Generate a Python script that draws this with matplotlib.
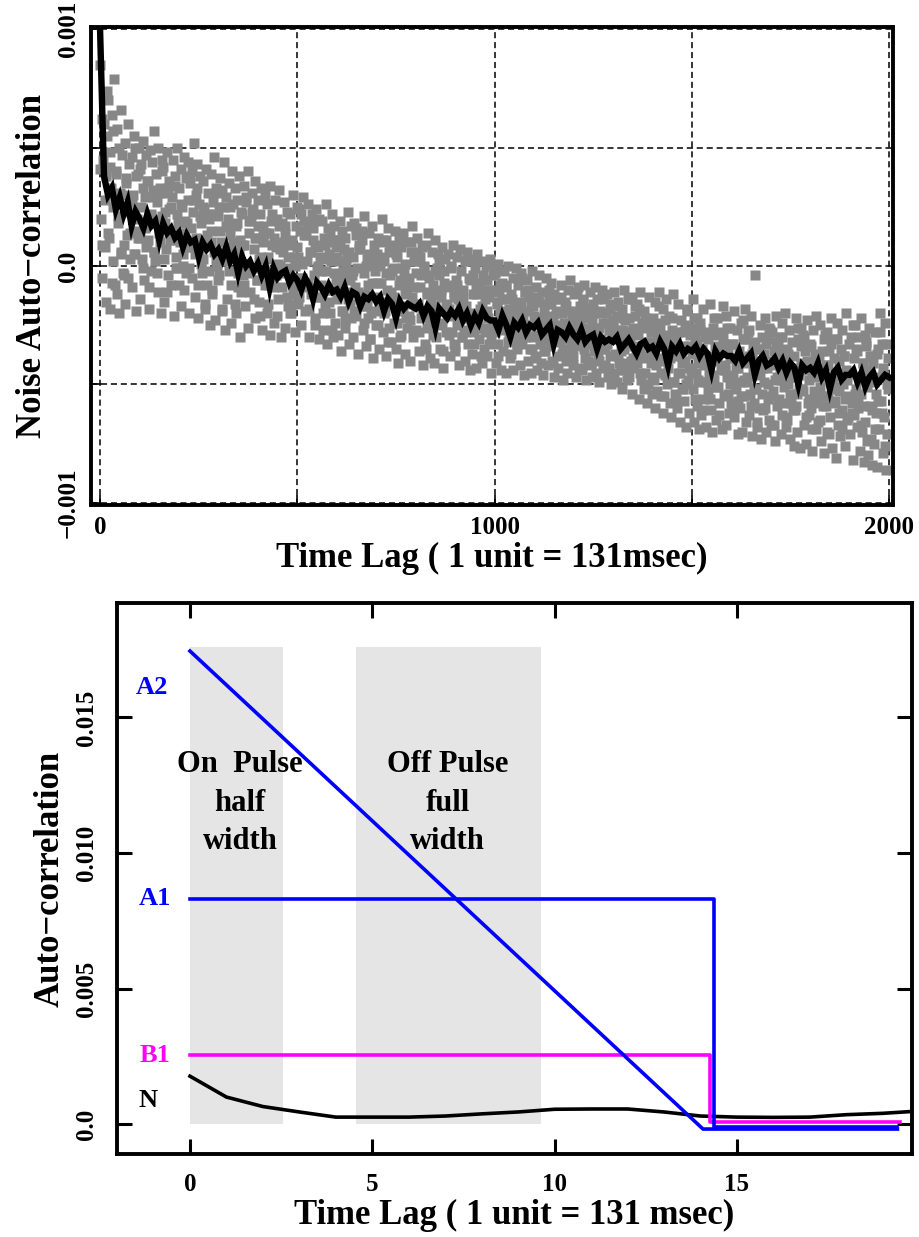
import numpy as np
import matplotlib
matplotlib.use("Agg")
import matplotlib.pyplot as plt

plt.rcParams['font.family'] = ['Liberation Serif', 'DejaVu Serif']
plt.rcParams['font.weight'] = 'bold'
plt.rcParams['axes.unicode_minus'] = True

# ---------------- top panel: noise auto-correlation (values in units of 1e-5) ----------------
lag_step_mean = 10
mean_acf = [
    100, 38, 30, 33, 24, 29, 22, 27, 17, 23,
    20, 16, 22, 17, 19, 11, 18, 14, 16, 12,
    14, 8, 13, 10, 11, 4, 10, 7, 9, 5,
    7, 3, 8, 2, 5, -3, 4, 0, 2, -2,
    1, -4, 0, -9, -1, -5, -3, -2, -7, -4,
    -6, -10, -5, -8, -14, -7, -9, -12, -8, -11,
    -10, -13, -9, -15, -11, -12, -17, -13, -14, -12,
    -15, -13, -19, -14, -16, -22, -15, -18, -16, -17,
    -18, -16, -21, -17, -19, -26, -18, -20, -22, -19,
    -21, -18, -23, -20, -25, -21, -24, -19, -22, -23,
    -23, -27, -21, -25, -30, -24, -26, -23, -28, -25,
    -26, -24, -29, -27, -25, -33, -27, -28, -30, -26,
    -29, -31, -27, -32, -30, -29, -35, -30, -32, -31,
    -32, -30, -35, -33, -31, -34, -37, -33, -32, -35,
    -34, -37, -32, -35, -42, -34, -36, -33, -37, -35,
    -36, -34, -38, -35, -37, -44, -36, -39, -37, -38,
    -38, -40, -36, -41, -39, -37, -46, -40, -38, -42,
    -41, -39, -43, -40, -45, -41, -43, -50, -42, -44,
    -43, -45, -41, -47, -44, -52, -45, -43, -48, -46,
    -46, -44, -49, -45, -51, -47, -45, -50, -48, -46,
    -47,
]

# individual noise samples, lags 0, 2, 4, ...
lag_step_scatter = 2
scatter_acf = [
    85, 20, 62, -5, 45, 72, 8, 38, -15, 55,
    70, 12, 48, -18, 33, 64, 2, 25, 79, -8,
    40, -12, 58, 18, -20, 31, 66, 6, 47, -3,
    9, 52, -16, 35, 24, 60, -5, 43, 14, 28,
    46, -9, 30, 55, 5, -19, 38, 20, 12, 50,
    -14, 41, 25, 3, 53, 33, -6, 16, 47, 9,
    36, 11, -18, 49, 22, -2, 44, 29, 6, 57,
    2, 39, 27, -11, 50, 14, 33, -20, 21, 45,
    42, -15, 18, 31, 7, 48, -4, 24, 36, 11,
    -8, 29, 45, 15, -21, 38, 4, 22, 50, -1,
    33, 10, -17, 41, 25, 0, 46, -10, 19, 37,
    8, 44, 28, -20, 35, 16, -5, 40, 23, 52,
    -13, 30, 12, 43, -22, 26, 6, 38, 18, -3,
    36, 3, 24, -18, 41, 13, -8, 31, 20, -25,
    15, 39, -12, 27, 6, 46, -23, 33, 0, 21,
    -6, 25, 37, 10, -19, 32, 2, 44, -27, 17,
    29, -14, 20, 35, -2, 13, -24, 40, 8, 26,
    5, 33, -20, 18, 28, -9, 38, 11, -30, 23,
    22, -4, 34, 9, -17, 27, 1, 40, -26, 14,
    -11, 19, 31, -1, 24, 7, -22, 36, 12, -6,
    28, 3, -15, 22, 33, -27, 10, 17, -5, 30,
    14, -20, 26, 4, -8, 34, -29, 19, 9, -2,
    -24, 12, 28, -4, 20, 1, -14, 32, 7, -30,
    18, -9, 6, 27, -26, 14, -1, 23, -17, 9,
    -3, 22, -20, 11, 30, -12, 4, -28, 17, 25,
    8, -15, 24, -5, 15, -25, 1, 29, -9, 19,
    -19, 13, 2, 26, -7, -30, 18, -12, 6, 22,
    16, -4, -22, 9, 24, -13, 0, -31, 20, 4,
    -8, 19, -27, 3, 12, -17, 26, -2, -33, 10,
    5, -20, 14, -10, 22, -30, -3, 17, -24, 8,
    -14, 11, -29, 2, 19, -6, -36, 15, -19, 7,
    12, -23, 0, -11, 23, -33, 6, -16, 17, -4,
    -30, 4, 18, -9, -21, 13, -1, -37, 9, -14,
    7, -17, 15, -27, -3, 21, -12, -34, 3, -22,
    -8, 14, -31, 1, -20, 17, -39, 9, -13, -2,
    -25, 5, 12, -16, -35, 0, -7, 20, -28, 10,
    2, -19, -38, 11, -10, 16, -26, -4, 7, -32,
    -14, 9, -24, -1, 15, -35, 4, -18, -41, 12,
    -6, -29, 8, -17, 14, -2, -37, 1, -22, -11,
    10, -21, -5, -40, 6, -13, 17, -30, -9, 2,
    -27, -3, 12, -16, -36, 4, -9, -22, 8, -42,
    0, -19, -33, 9, -11, -26, 14, -5, -39, -15,
    -23, 6, -8, -41, -17, 11, -30, -1, -12, 2,
    -4, -35, -13, 8, -24, -43, -7, 3, -19, -28,
    -16, 5, -29, -9, -38, 0, -21, 9, -33, -11,
    -36, -6, 4, -25, -14, -42, 7, -19, -2, -30,
    -10, -27, 2, -40, -17, 6, -33, -22, -5, -44,
    -20, 3, -37, -12, -28, -1, -43, -8, 5, -24,
    -31, -9, -18, 2, -41, -26, -4, -35, -14, 0,
    -6, -38, -22, -13, 3, -30, -45, -10, -27, -1,
    -25, -3, -41, -16, 1, -33, -11, -20, -44, -7,
    -14, -36, -2, -27, -45, -9, -19, 0, -31, -22,
    -39, -12, -24, -5, -44, -17, -30, -1, -35, -20,
    -8, -28, -42, -15, -3, -33, -21, -46, -11, -25,
    -30, -6, -19, -40, -13, -25, -45, -2, -35, -17,
    -21, -38, -9, -29, -44, -14, -4, -33, -24, -41,
    -11, -26, -46, -18, -36, -5, -31, -22, -42, -14,
    -34, -16, -7, -40, -23, -47, -12, -29, -19, -38,
    -25, -43, -13, -32, -8, -37, -20, -48, -28, -15,
    -17, -30, -45, -10, -24, -39, -6, -34, -22, -42,
    -38, -12, -27, -47, -19, -33, -9, -43, -24, -30,
    -21, -44, -15, -35, -8, -28, -48, -18, -40, -26,
    -32, -11, -41, -23, -47, -16, -36, -9, -29, -45,
    -14, -38, -26, -49, -19, -31, -10, -43, -24, -35,
    -42, -20, -33, -12, -47, -27, -38, -16, -50, -29,
    -25, -45, -11, -37, -21, -49, -31, -15, -41, -28,
    -36, -18, -52, -27, -10, -44, -23, -33, -48, -14,
    -22, -47, -31, -13, -54, -39, -26, -43, -17, -35,
    -41, -16, -29, -56, -35, -11, -48, -24, -38, -52,
    -19, -45, -32, -58, -25, -50, -13, -38, -28, -54,
    -47, -22, -36, -60, -15, -42, -53, -29, -33, -11,
    -26, -55, -40, -18, -62, -34, -46, -14, -50, -30,
    -43, -21, -58, -33, -64, -27, -12, -49, -38, -54,
    -31, -60, -16, -45, -36, -66, -23, -52, -41, -28,
    -57, -25, -40, -68, -19, -48, -34, -62, -29, -44,
    -37, -14, -52, -66, -30, -45, -22, -59, -41, -69,
    -24, -49, -63, -35, -18, -56, -42, -28, -68, -39,
    -53, -31, -45, -16, -61, -38, -70, -26, -48, -34,
    -40, -65, -22, -51, -36, -58, -29, -44, -69, -17,
    -30, -55, -42, -67, -21, -47, -35, -62, -26, -50,
    -58, -33, -46, -19, -64, -39, -52, -27, -71, -43,
    -36, -60, -24, -49, -70, -31, -55, -41, -18, -66,
    -47, -28, -63, -38, -54, -21, -72, -44, -33, -58,
    -4, -52, -40, -68, -35, -60, -25, -46, -73, -30,
    -61, -37, -49, -22, -70, -43, -56, -31, -65, -27,
    -42, -67, -28, -53, -36, -74, -48, -21, -59, -34,
    -30, -56, -45, -71, -24, -63, -39, -51, -20, -68,
    -64, -35, -50, -27, -73, -43, -58, -32, -47, -76,
    -38, -61, -22, -54, -70, -31, -46, -77, -41, -26,
    -52, -29, -67, -44, -36, -75, -23, -58, -48, -63,
    -33, -60, -45, -78, -27, -53, -40, -69, -21, -56,
    -66, -38, -51, -25, -74, -44, -59, -31, -79, -47,
    -42, -70, -28, -55, -36, -64, -49, -22, -77, -58,
    -31, -57, -46, -81, -24, -67, -40, -53, -72, -35,
    -61, -27, -50, -38, -76, -44, -20, -65, -55, -33,
    -45, -71, -30, -58, -82, -39, -63, -25, -52, -68,
    -36, -60, -48, -78, -22, -54, -70, -41, -83, -29,
    -66, -32, -51, -44, -80, -26, -59, -73, -38, -84,
    -41, -75, -28, -62, -54, -85, -35, -69, -20, -47,
    -57, -33, -79, -46, -64, -24, -86, -50, -71, -39,
]

# more noise samples, lags 1, 5, 9, ...
lag_start_extra = 1
lag_step_extra = 4
scatter_acf_extra = [
    41, 9, 60, 28, 74, 14, 42, -7, 57, 29,
    39, 21, 50, 5, 30, -4, 37, 13, 23, 3,
    27, 5, 50, 15, 39, 12, 43, -1, 29, 8,
    36, -9, 21, 32, 6, 19, -3, 31, 10, 40,
    3, 23, -11, 33, 14, 25, 11, 34, -1, 18,
    -8, 26, 5, 14, -3, 18, -1, 38, 8, 28,
    5, 33, -8, 21, 1, 25, -16, 11, 22, -2,
    10, -10, 22, 2, 31, -4, 15, -18, 25, 6,
    17, 3, 25, -8, 10, -16, 17, -3, 6, -11,
    9, -8, 29, 0, 19, -3, 23, -14, 12, -6,
    17, -21, 4, 13, -8, 3, -16, 14, -5, 22,
    -9, 8, -21, 17, 0, 10, -3, 17, -13, 4,
    -20, 10, -8, 0, -16, 4, -13, 22, -5, 13,
    -8, 17, -18, 6, -11, 11, -25, -1, 8, -13,
    -2, -20, 9, -10, 16, -15, 2, -27, 11, -6,
    4, -9, 11, -19, -2, -26, 4, -14, -6, -22,
    -2, -19, 16, -11, 7, -14, 11, -24, 0, -17,
    5, -31, -7, 2, -19, -7, -25, 4, -15, 11,
    -20, -3, -32, 6, -11, -2, -13, 5, -24, -8,
    -30, -1, -19, -12, -26, -7, -23, 10, -16, 2,
    -17, 6, -28, -4, -20, -1, -35, -12, -4, -23,
    -12, -29, -2, -19, 5, -25, -10, -36, -2, -17,
    -8, -18, -1, -28, -13, -34, -8, -23, -17, -30,
    -14, -28, 2, -22, -6, -24, -4, -33, -12, -26,
    -7, -38, -17, -10, -28, -19, -33, -10, -25, -4,
    -28, -15, -38, -8, -21, -14, -23, -8, -32, -18,
    -37, -14, -28, -22, -33, -18, -31, -5, -25, -11,
    -27, -10, -35, -17, -30, -13, -39, -22, -15, -31,
    -23, -36, -16, -28, -10, -32, -21, -41, -14, -26,
    -20, -28, -14, -35, -24, -40, -19, -31, -26, -36,
    -23, -34, -11, -29, -17, -31, -14, -39, -22, -33,
    -18, -42, -26, -20, -34, -27, -40, -20, -32, -14,
    -35, -24, -43, -18, -29, -23, -31, -17, -38, -27,
    -44, -22, -35, -30, -41, -28, -40, -14, -34, -21,
    -36, -18, -45, -26, -39, -22, -51, -32, -24, -41,
    -32, -48, -24, -39, -17, -45, -30, -55, -23, -37,
    -29, -39, -22, -49, -34, -56, -28, -45, -38, -52,
    -34, -50, -18, -43, -26, -45, -22, -56, -32, -48,
    -27, -61, -38, -30, -49, -39, -56, -29, -46, -22,
    -51, -36, -63, -28, -43, -33, -44, -26, -54, -39,
    -61, -33, -50, -43, -57, -39, -55, -23, -48, -31,
    -49, -27, -59, -37, -52, -32, -66, -43, -35, -54,
    -43, -60, -33, -50, -26, -55, -40, -67, -32, -47,
    -37, -48, -30, -58, -43, -65, -37, -54, -47, -61,
    -43, -59, -26, -52, -34, -53, -30, -64, -40, -56,
    -34, -69, -46, -37, -58, -47, -65, -36, -55, -29,
    -59, -42, -71, -33, -50, -39, -52, -31, -62, -45,
    -69, -38, -56, -48, -64, -45, -62, -25, -54, -35,
    -56, -30, -67, -41, -59, -34, -74, -48, -38, -61,
    -49, -69, -37, -57, -28, -62, -43, -76, -33, -52,
]

top_xticks = [0, 500, 1000, 1500, 2000]
top_xticklabels = ['0', '', '1000', '', '2000']
top_yticks = [-0.001, -0.0005, 0.0, 0.0005, 0.001]
top_yticklabels = ['\u22120.001', '', '0.0', '', '0.001']

# ---------------- bottom panel: model auto-correlations ----------------
a2_x = [0, 14.07, 19.4]
a2_y = [0.01745, -0.00018, -0.00018]
a1_x = [0, 14.37, 14.37, 19.4]
a1_y = [0.0083, 0.0083, -0.00009, -0.00009]
b1_x = [0, 14.26, 14.26, 19.48]
b1_y = [0.00255, 0.00255, 0.00007, 0.00007]
n_x = [0, 1, 2, 3, 4, 5, 6, 7, 8, 9, 10, 11, 12, 13, 14, 15, 16, 17, 18, 19, 19.7]
n_y = [0.00177, 0.00100, 0.00065, 0.00045, 0.00026, 0.00026, 0.00026, 0.00030,
       0.00038, 0.00045, 0.00055, 0.00056, 0.00056, 0.00045, 0.00030, 0.00026,
       0.00025, 0.00026, 0.00035, 0.00040, 0.00046]
on_pulse = (0.0, 2.55)
off_pulse = (4.56, 9.62)
window_top = 0.0176

bot_xticks = [0, 5, 10, 15]
bot_yticks = [0.0, 0.005, 0.010, 0.015]
bot_yticklabels = ['0.0', '0.005', '0.010', '0.015']

fig = plt.figure(figsize=(9.2, 12.37), dpi=100)

# ---- top ----
ax1 = fig.add_axes([0.0989, 0.5917, 0.8717, 0.3865])
lags_s = np.arange(len(scatter_acf)) * lag_step_scatter
lags_e = lag_start_extra + np.arange(len(scatter_acf_extra)) * lag_step_extra
lags_m = np.arange(len(mean_acf)) * lag_step_mean
ax1.plot(lags_s, np.array(scatter_acf) * 1e-5, 's', color='#878787', ms=7.4,
         mec='none', zorder=2)
ax1.plot(lags_e, np.array(scatter_acf_extra) * 1e-5, 's', color='#878787', ms=7.4,
         mec='none', zorder=2)
ax1.plot(lags_m, np.array(mean_acf) * 1e-5, '-', color='black', lw=4.6,
         solid_joinstyle='miter', zorder=3)
ax1.set_xlim(-23, 2010)
ax1.set_ylim(-0.00101, 0.00101)
ax1.set_xticks(top_xticks)
ax1.set_xticklabels(top_xticklabels, fontsize=18, fontweight='bold')
ax1.set_yticks(top_yticks)
ax1.set_yticklabels(top_yticklabels, fontsize=18, fontweight='bold',
                    rotation=90, va='center')
ax1.grid(True, color='black', linestyle=(0, (4, 2.5)), linewidth=1.1, zorder=1)
ax1.set_axisbelow(True)
ax1.tick_params(direction='in', length=7, width=1.2, pad=8)
for s in ax1.spines.values():
    s.set_linewidth(2.8)
ax1.set_xlabel('Time Lag ( 1 unit = 131msec)', fontsize=25, fontweight='bold',
               labelpad=2)
ax1.set_ylabel('Noise Auto\u2212correlation', fontsize=25, fontweight='bold',
               labelpad=6)

# ---- bottom ----
ax2 = fig.add_axes([0.1272, 0.0671, 0.8641, 0.4454])
ax2.fill_between(on_pulse, 0, window_top, color='#e5e5e5', lw=0, zorder=0)
ax2.fill_between(off_pulse, 0, window_top, color='#e5e5e5', lw=0, zorder=0)
ax2.plot(n_x, n_y, color='black', lw=2.6, zorder=2)
ax2.plot(b1_x, b1_y, color='#ff00ff', lw=2.6, zorder=3)
ax2.plot(a1_x, a1_y, color='#0000ff', lw=2.6, zorder=4)
ax2.plot(a2_x, a2_y, color='#0000ff', lw=2.6, zorder=4)

ax2.text(-1.05, 0.0161, 'A2', color='#0000ff', fontsize=19, fontweight='bold',
         ha='center', va='center')
ax2.text(-0.96, 0.00834, 'A1', color='#0000ff', fontsize=19, fontweight='bold',
         ha='center', va='center')
ax2.text(-0.96, 0.00255, 'B1', color='#ff00ff', fontsize=19, fontweight='bold',
         ha='center', va='center')
ax2.text(-1.15, 0.00089, 'N', color='black', fontsize=19, fontweight='bold',
         ha='center', va='center')
ax2.text(1.37, 0.01184, 'On  Pulse\nhalf\nwidth', fontsize=22, fontweight='bold',
         ha='center', va='center', linespacing=1.42)
ax2.text(7.06, 0.01184, 'Off Pulse\nfull\nwidth', fontsize=22, fontweight='bold',
         ha='center', va='center', linespacing=1.42)

ax2.set_xlim(-2.0, 19.8)
ax2.set_ylim(-0.0011, 0.01922)
ax2.set_xticks(bot_xticks)
ax2.set_xticklabels([str(t) for t in bot_xticks], fontsize=18, fontweight='bold')
ax2.set_yticks(bot_yticks)
ax2.set_yticklabels(bot_yticklabels, fontsize=18, fontweight='bold',
                    rotation=90, va='center')
ax2.tick_params(direction='in', length=11, width=2.2, pad=14,
                top=True, right=True)
for s in ax2.spines.values():
    s.set_linewidth(2.8)
ax2.set_xlabel('Time Lag ( 1 unit = 131 msec)', fontsize=25, fontweight='bold',
               labelpad=2)
ax2.set_ylabel('Auto\u2212correlation', fontsize=25, fontweight='bold', labelpad=6)

fig.savefig('out.png', dpi=100)
